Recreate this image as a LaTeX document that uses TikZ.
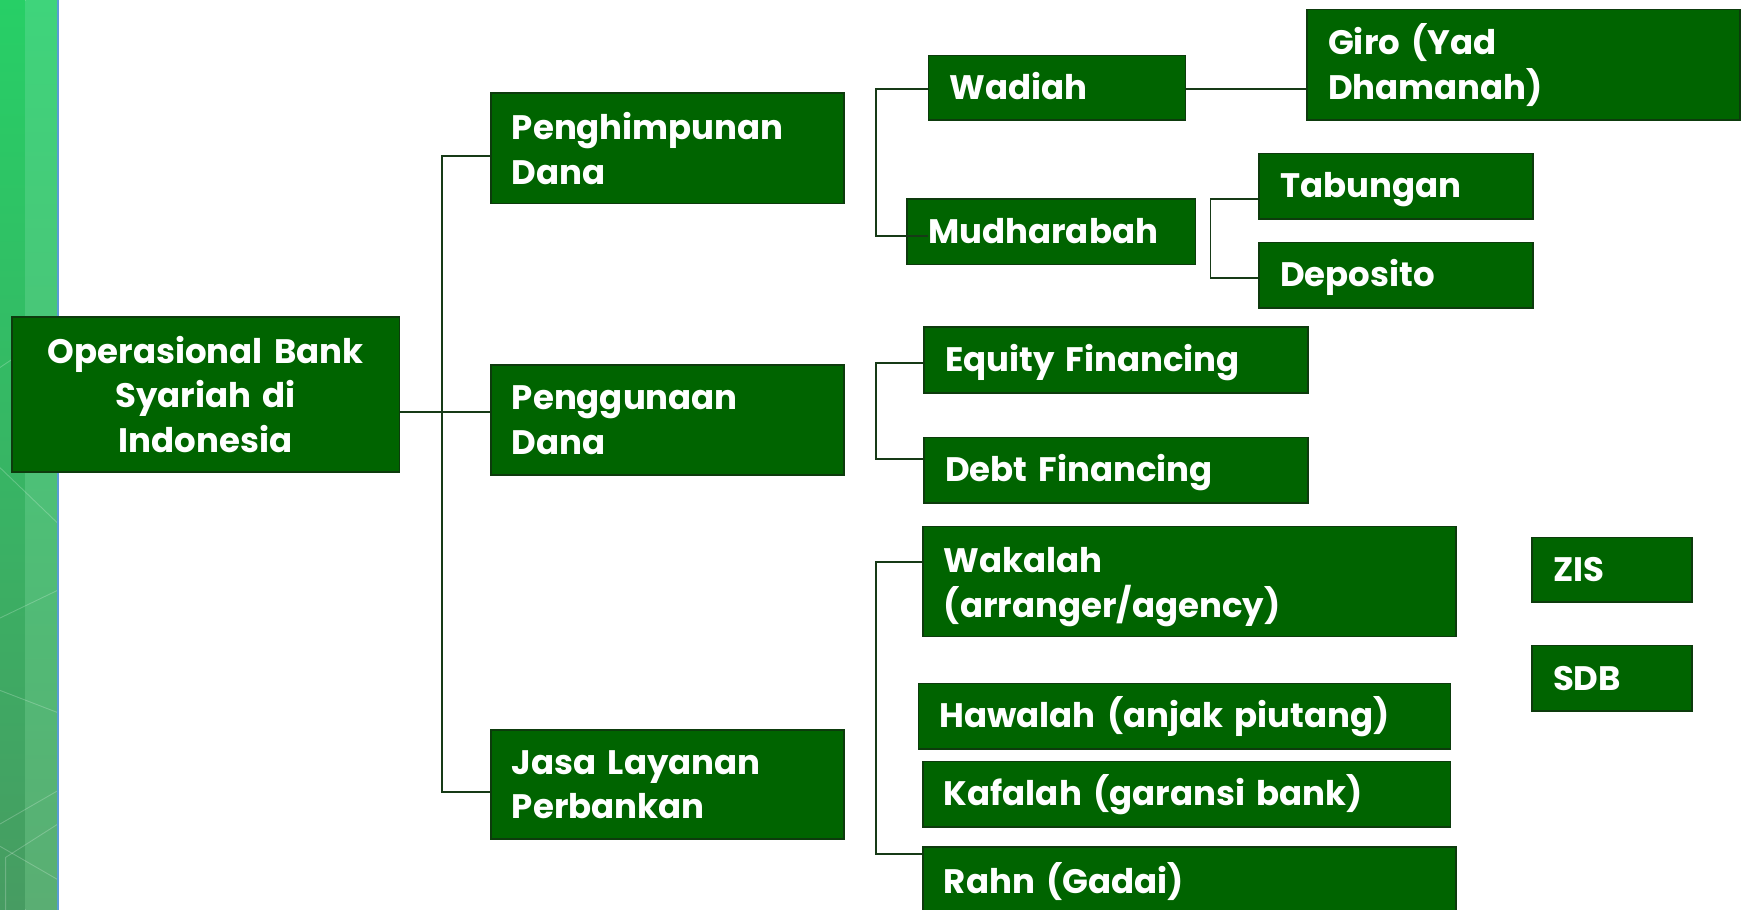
\documentclass[tikz,border=0pt]{standalone}
\usepackage{fontspec}
\setmainfont{Poppins}
\definecolor{boxgreen}{HTML}{006400}
\definecolor{boxedge}{HTML}{0D3B0D}
\definecolor{linkc}{HTML}{173A17}
\definecolor{stripTopA}{HTML}{27CF66}
\definecolor{stripBotA}{HTML}{479C62}
\definecolor{stripTopB}{HTML}{3FD47B}
\definecolor{stripBotB}{HTML}{5AAE73}
\definecolor{stripLine}{HTML}{5B9BD5}
\tikzset{
  bx/.style={draw=boxedge, fill=boxgreen, line width=1.4pt, text=white,
    font=\fontsize{30.5}{40}\selectfont\bfseries, anchor=north west,
    inner xsep=19pt, inner ysep=0pt, align=left},
  oneline/.style={text height=29pt, text depth=8pt},
  link/.style={draw=linkc, line width=1.6pt},
  deco/.style={draw=white, opacity=0.22, line width=0.8pt},
}
\newcommand\bxnode[7][]{%
  \pgfmathsetmacro\tw{#5-38}%
  \node[bx, #1, minimum width=#5pt, minimum height=#6pt, text width=\tw pt] (#2) at (#3,#4) {#7};}
\begin{document}
\begin{tikzpicture}[x=1pt,y=-1pt]
\useasboundingbox (0,0) rectangle (1568,817);
\clip (0,0) rectangle (1568,817);
% left decorative strip
\shade[top color=stripTopA, bottom color=stripBotA] (0,0) rectangle (23,817);
\shade[top color=stripTopB, bottom color=stripBotB] (23,0) rectangle (52,817);
\draw[deco] (0,330) -- (52,295);
\draw[deco] (0,420) -- (52,470);
\draw[deco] (0,555) -- (52,530);
\draw[deco] (0,620) -- (52,640);
\draw[deco] (0,740) -- (52,710);
\draw[deco] (5,817) -- (5,770) -- (52,740);
\draw[deco] (0,760) -- (52,790);
\draw[stripLine, line width=1.5pt] (52,0) -- (52,817);
% nodes
\bxnode[align=center]{root}{10}{284}{348}{139}{Operasional Bank\\Syariah di\\Indonesia}
\bxnode{phd}{440}{83}{317}{99}{Penghimpunan\\Dana}
\bxnode{pgd}{440}{327}{317}{99}{Penggunaan\\Dana}
\bxnode{jasa}{440}{655}{317}{98}{Jasa Layanan\\Perbankan}
\bxnode[oneline]{wad}{833}{49}{231}{58}{Wadiah}
\bxnode{giro}{1173}{8}{389}{99}{Giro (Yad\\Dhamanah)}
\bxnode[oneline]{mud}{814}{178}{259}{59}{Mudharabah}
\bxnode[oneline]{tab}{1130}{137}{246}{59}{Tabungan}
\bxnode[oneline]{dep}{1130}{217}{246}{59}{Deposito}
\bxnode[oneline]{eq}{829}{293}{345}{59}{Equity Financing}
\bxnode[oneline]{debt}{829}{392}{345}{59}{Debt Financing}
\bxnode[text depth=38pt]{wak}{828}{472}{479}{99}{Wakalah\\(arranger/agency)}
\bxnode[oneline]{haw}{824}{613}{478}{59}{Hawalah (anjak piutang)}
\bxnode[oneline]{kaf}{828}{683}{474}{59}{Kafalah (garansi bank)}
\bxnode[oneline]{rahn}{828}{760}{479}{62}{Rahn (Gadai)}
\bxnode[oneline]{zis}{1375}{482}{144}{58}{ZIS}
\bxnode[oneline]{sdb}{1375}{579}{144}{59}{SDB}
% junction coordinates
\coordinate (t1) at (397,140);
\coordinate (t2) at (397,370);
\coordinate (t3) at (397,711);
\coordinate (a1) at (787,80);
\coordinate (a2) at (787,212);
\coordinate (m2) at (833,212);
\coordinate (b1) at (787,326);
\coordinate (b2) at (787,412);
\coordinate (c1) at (787,505);
\coordinate (c2) at (787,767);
\coordinate (d1) at (1087,179);
\coordinate (d2) at (1087,250);
% connectors
\draw[link] (root.east |- t2) -- (pgd.west |- t2);
\draw[link] (phd.west |- t1) -- (t1) -- (t3) -- (jasa.west |- t3);
\draw[link] (wad.west |- a1) -- (a1) -- (a2) -- (m2);
\draw[link] (wad.east |- a1) -- (giro.west |- a1);
\draw[link] (eq.west |- b1) -- (b1) -- (b2) -- (debt.west |- b2);
\draw[link] (wak.west |- c1) -- (c1) -- (c2) -- (rahn.west |- c2);
\draw[link] (tab.west |- d1) -- (d1) -- (d2) -- (dep.west |- d2);
\end{tikzpicture}
\end{document}
